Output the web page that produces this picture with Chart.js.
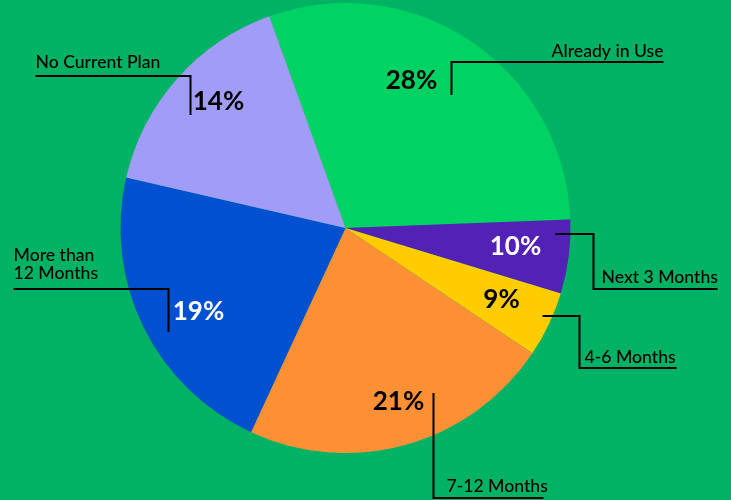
<!DOCTYPE html>
<html>
<head>
<meta charset="utf-8">
<script src="https://cdn.jsdelivr.net/npm/chart.js@4.4.1/dist/chart.umd.min.js"></script>
<style>
  html, body { margin: 0; padding: 0; background: #00b264; }
  #pie { display: block; }
</style>
</head>
<body>
<canvas id="pie" width="731" height="500"></canvas>
<script>
// data
const categories = ["Already in Use", "Next 3 Months", "4-6 Months", "7-12 Months", "More than 12 Months", "No Current Plan"]
// slice sizes as they are drawn in the picture (share of the circle)
const shares = [29.9, 5.3, 4.7, 22.5, 21.7, 15.9]
// values printed on the slices
const printedPct = ["28%", "10%", "9%", "21%", "19%", "14%"]

const sliceColors = ["#00d264", "#5321b5", "#ffcc00", "#fd9035", "#0050d0", "#a09cf8"]
const pctColors = ["#000", "#fff", "#000", "#000", "#fff", "#000"]

// callout layout, offsets from the pie centre
// pct: centre of the percentage text, line: leader polyline, text: category label
const callouts = [
    {pct: [66, -147], line: [[106, -133], [106, -166], [318, -166]], text: [318, -171], align: "right", lines: ["Already in Use"]},
    {pct: [170, 19], line: [[210, 6], [248, 6], [248, 61], [372, 61]], text: [256, 55], align: "left", lines: ["Next 3 Months"]},
    {pct: [156, 72], line: [[197, 88], [234, 88], [234, 140], [331, 140]], text: [239, 135], align: "left", lines: ["4-6 Months"]},
    {pct: [53, 174], line: [[88, 165], [88, 270], [198, 270]], text: [101, 264], align: "left", lines: ["7-12 Months"]},
    {pct: [-147, 84], line: [[-177, 104], [-177, 61], [-332, 61]], text: [-332, 51], align: "left", lines: ["More than", "12 Months"]},
    {pct: [-127, -126], line: [[-155, -113], [-155, -152], [-310, -152]], text: [-310, -160], align: "left", lines: ["No Current Plan"]}
]

const calloutPlugin = {
    id: "callouts",
    afterDatasetsDraw(chart){
        const ctx = chart.ctx
        const arc = chart.getDatasetMeta(0).data[0]
        const cx = arc.x, cy = arc.y
        ctx.save()
        callouts.forEach((c, i) => {
            // percentage
            ctx.font = "bold 26px Lato"
            ctx.fillStyle = pctColors[i]
            ctx.textAlign = "center"
            ctx.textBaseline = "middle"
            ctx.fillText(printedPct[i], cx + c.pct[0], cy + c.pct[1])

            // leader
            ctx.strokeStyle = "#000"
            ctx.lineWidth = 2
            ctx.beginPath()
            c.line.forEach((p, j) => {
                if(j == 0) ctx.moveTo(cx + p[0], cy + p[1])
                else ctx.lineTo(cx + p[0], cy + p[1])
            })
            ctx.stroke()

            // category name
            ctx.font = "500 17.6px Lato"
            ctx.fillStyle = "#000"
            ctx.textAlign = c.align
            ctx.textBaseline = "alphabetic"
            const n = c.lines.length
            c.lines.forEach((t, j) => {
                ctx.fillText(t, cx + c.text[0], cy + c.text[1] - (n - 1 - j) * 18)
            })
        })
        ctx.restore()
    }
}

new Chart(document.getElementById("pie"), {
    type: "pie",
    data: {
        labels: categories,
        datasets: [{
            data: shares,
            backgroundColor: sliceColors,
            borderWidth: 0,
            hoverOffset: 0
        }]
    },
    options: {
        responsive: false,
        animation: false,
        rotation: -19.8,
        layout: {
            padding: {top: 3, bottom: 47, left: 0, right: 40}
        },
        plugins: {
            legend: {display: false},
            tooltip: {enabled: false}
        }
    },
    plugins: [calloutPlugin]
})
</script>
</body>
</html>
